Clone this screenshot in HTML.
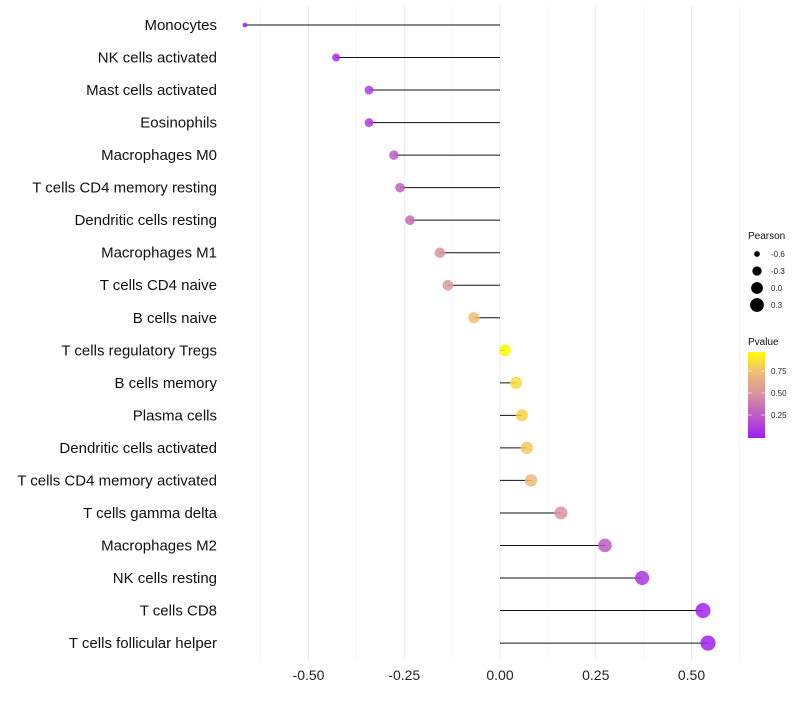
<!DOCTYPE html>
<html><head><meta charset="utf-8"><style>
body{margin:0;background:#fff;font-family:"Liberation Sans",sans-serif}
</style></head><body>
<svg id="c" width="800" height="700" xmlns="http://www.w3.org/2000/svg">
<defs><linearGradient id="pg" x1="0" y1="1" x2="0" y2="0">
<stop offset="0" stop-color="#a020f0"/><stop offset="0.5" stop-color="#d88fa0"/><stop offset="0.78" stop-color="#f0c070"/><stop offset="1" stop-color="#ffff00"/></linearGradient></defs>
</svg>
<script>
const categories=["Monocytes","NK cells activated","Mast cells activated","Eosinophils","Macrophages M0","T cells CD4 memory resting","Dendritic cells resting","Macrophages M1","T cells CD4 naive","B cells naive","T cells regulatory  Tregs ","B cells memory","Plasma cells","Dendritic cells activated","T cells CD4 memory activated","T cells gamma delta","Macrophages M2","NK cells resting","T cells CD8","T cells follicular helper"];
const pearson=[-0.666,-0.428,-0.342,-0.342,-0.277,-0.261,-0.235,-0.157,-0.136,-0.068,0.013,0.042,0.057,0.070,0.081,0.159,0.274,0.371,0.530,0.543];
const pvalues=[0.01,0.05,0.12,0.12,0.25,0.28,0.33,0.5,0.55,0.75,0.96,0.85,0.82,0.78,0.72,0.5,0.25,0.1,0.02,0.01];
const xTicks=[-0.5,-0.25,0,0.25,0.5];
const xTickLabels=["-0.50","-0.25","0.00","0.25","0.50"];
const sizeLegend=[-0.6,-0.3,0.0,0.3];
const sizeLegendLabels=["-0.6","-0.3","0.0","0.3"];
const colorTicks=[0.25,0.5,0.75];
const colorTickLabels=["0.25","0.50","0.75"];

const svg=document.getElementById('c');const NS="http://www.w3.org/2000/svg";
const X=v=>500+v*383;const Y=i=>25+i*32.53;
const R=v=>Math.sqrt(Math.max(4,30+40*v))+0.4;
function col(p){const s=[[0,[160,32,240]],[0.5,[216,143,160]],[0.78,[240,192,112]],[1,[255,255,0]]];
 const t=Math.min(1,p/0.966);let j=0;while(j<s.length-2&&t>s[j+1][0])j++;const a=s[j],b=s[j+1];const f=(t-a[0])/(b[0]-a[0]);
 return "rgb("+a[1].map((c,k)=>Math.round(c+(b[1][k]-c)*f)).join(",")+")";}
function el(t,at,txt){const e=document.createElementNS(NS,t);for(const k in at)e.setAttribute(k,at[k]);if(txt!==undefined)e.textContent=txt;svg.appendChild(e);return e;}
for(let k=-5;k<=5;k++){const v=k*0.125;const g=el('line',{x1:X(v),x2:X(v),y1:5,y2:660,stroke:k%2===0?'#ececec':'#f5f5f5','stroke-width':1});
}
xTicks.forEach((v,i)=>{const t=el('text',{x:X(v),y:680,'text-anchor':'middle','font-size':14,fill:'#222'},xTickLabels[i]);
});
categories.forEach((c,i)=>{
 const t=el('text',{x:217,y:Y(i)+5,'text-anchor':'end','font-size':15,fill:'#111'},c);
 
 const l=el('line',{x1:X(0),x2:X(pearson[i]),y1:Y(i),y2:Y(i),stroke:'#111','stroke-width':1});
 
 const p=el('circle',{cx:X(pearson[i]),cy:Y(i),r:R(pearson[i]),fill:col(pvalues[i]),'fill-opacity':0.85});
 
});
let lt=el('text',{x:748,y:239,'font-size':10,fill:'#111'},'Pearson');

sizeLegend.forEach((v,i)=>{const y=254+i*17;
 const c=el('circle',{cx:757,cy:y,r:R(v),fill:'#000'});
 const t=el('text',{x:771,y:y+3,'font-size':8,fill:'#222'},sizeLegendLabels[i]);});
lt=el('text',{x:748,y:345,'font-size':10,fill:'#111'},'Pvalue');

const cb=el('rect',{x:748,y:352,width:17,height:86,fill:'url(#pg)'});

colorTicks.forEach((v,i)=>{const y=437-v*88;
 el('line',{x1:748,x2:752,y1:y,y2:y,stroke:'#fff','stroke-opacity':0.6});el('line',{x1:761,x2:765,y1:y,y2:y,stroke:'#fff','stroke-opacity':0.6});
 const t=el('text',{x:771,y:y+3,'font-size':8,fill:'#222'},colorTickLabels[i]);});
</script>
</body></html>
